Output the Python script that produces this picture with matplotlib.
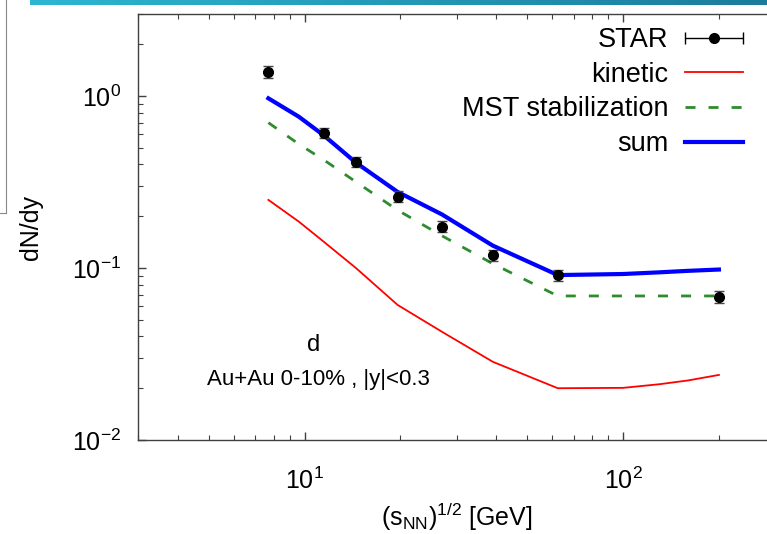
import numpy as np
import matplotlib
matplotlib.use("Agg")
import matplotlib.pyplot as plt
from matplotlib.container import ErrorbarContainer
from matplotlib.legend_handler import HandlerErrorbar
from matplotlib.lines import Line2D

plt.rcParams['font.family'] = ['Liberation Sans', 'DejaVu Sans']
plt.rcParams['mathtext.fontset'] = 'custom'
plt.rcParams['mathtext.rm'] = 'Liberation Sans'
plt.rcParams['mathtext.it'] = 'Liberation Sans:italic'
plt.rcParams['axes.unicode_minus'] = False

# STAR deuteron data
star_energy = [7.7, 11.5, 14.5, 19.6, 27, 39, 62.4, 200]
star_dndy = [1.38, 0.61, 0.415, 0.26, 0.174, 0.119, 0.091, 0.068]
star_err = [0.11, 0.043, 0.03, 0.019, 0.013, 0.009, 0.0065, 0.0052]

# model curves
model_energy = [7.7, 9.6, 11.5, 14.5, 19.6, 27, 39, 62.4, 100, 130, 160, 200]
kinetic = [0.249, 0.186, 0.142, 0.10, 0.061, 0.0426, 0.0285, 0.020, 0.0201, 0.0211, 0.0222, 0.0239]
mst = [0.70, 0.525, 0.425, 0.317, 0.217, 0.154, 0.106, 0.0688, 0.0688, 0.0688, 0.0688, 0.0688]
total = [0.97, 0.758, 0.59, 0.41, 0.277, 0.205, 0.135, 0.091, 0.0923, 0.0944, 0.0963, 0.098]

fig = plt.figure(figsize=(7.67, 5.34), dpi=100)
ax = fig.add_axes([138/767, 94/534, 637/767, 426/534])

ax.plot(model_energy, kinetic, color='#ff0000', lw=1.3, label='kinetic')
ax.plot(model_energy, mst, color='#2e8b2e', lw=2.0, dashes=(3.6, 4.7), label='MST stabilization')
ax.plot(model_energy, total, color='#0000ff', lw=3.0, label='sum')
ax.errorbar(star_energy, star_dndy, yerr=star_err, fmt='o', color='black',
            ms=7, elinewidth=1, ecolor='#444444', capsize=3.5, capthick=1, zorder=5)

# legend handle for STAR: horizontal bar with caps
star_handle = ax.errorbar([np.nan], [np.nan], xerr=[1], fmt='o', color='black',
                          ms=7, elinewidth=1, capsize=4, capthick=1)

ax.set_xscale('log')
ax.set_yscale('log')
ax.set_xlim(3, 300)
ax.set_ylim(0.01, 3)

for s in ax.spines.values():
    s.set_color('#404040')
    s.set_linewidth(1.0)
ax.tick_params(which='both', direction='in', top=True, right=True, color='#404040')
ax.tick_params(which='major', length=6, width=1, labelsize=18, pad=12)
ax.tick_params(which='minor', length=3.5, width=0.8)
ax.tick_params(axis='x', which='major', pad=20)

ax.set_ylabel('dN/dy', fontsize=18)
ax.yaxis.set_label_coords(-0.149, 0.5)
ax.set_xlabel(r'$(\mathrm{s}_{\mathrm{NN}})^{1/2}$ [GeV]', fontsize=18, labelpad=5)

ax.text(0.275, 0.223, 'd', transform=ax.transAxes, fontsize=17, ha='center', va='center')
ax.text(0.108, 0.143, 'Au+Au 0-10% , |y|<0.3', transform=ax.transAxes, fontsize=16,
        ha='left', va='center')

h, l = ax.get_legend_handles_labels()
handles = [star_handle, h[0], h[1], h[2]]
labels = ['STAR', 'kinetic', 'MST stabilization', 'sum']
ax.legend(handles, labels, loc='upper right', bbox_to_anchor=(743/767, 1 - 27/534),
          bbox_transform=fig.transFigure, frameon=False, markerfirst=False,
          fontsize=19.5, handlelength=2.15, handletextpad=0.6, labelspacing=0.32,
          borderpad=0, borderaxespad=0,
          handler_map={ErrorbarContainer: HandlerErrorbar(xerr_size=1.08)})

# slide decorations
bar = fig.add_axes([30/767, 1 - 5/534, 737/767, 5/534])
bar.imshow(np.linspace(0, 1, 200)[None, :], aspect='auto',
           cmap=matplotlib.colors.LinearSegmentedColormap.from_list('g', ['#2db6d2', '#1b7c9c']))
bar.axis('off')
fig.add_artist(Line2D([6/767, 6/767], [1, 1 - 213/534], color='#888888', lw=0.8))
fig.add_artist(Line2D([0, 6/767], [1 - 213/534, 1 - 213/534], color='#888888', lw=0.8))

fig.savefig('out.png', dpi=100)
